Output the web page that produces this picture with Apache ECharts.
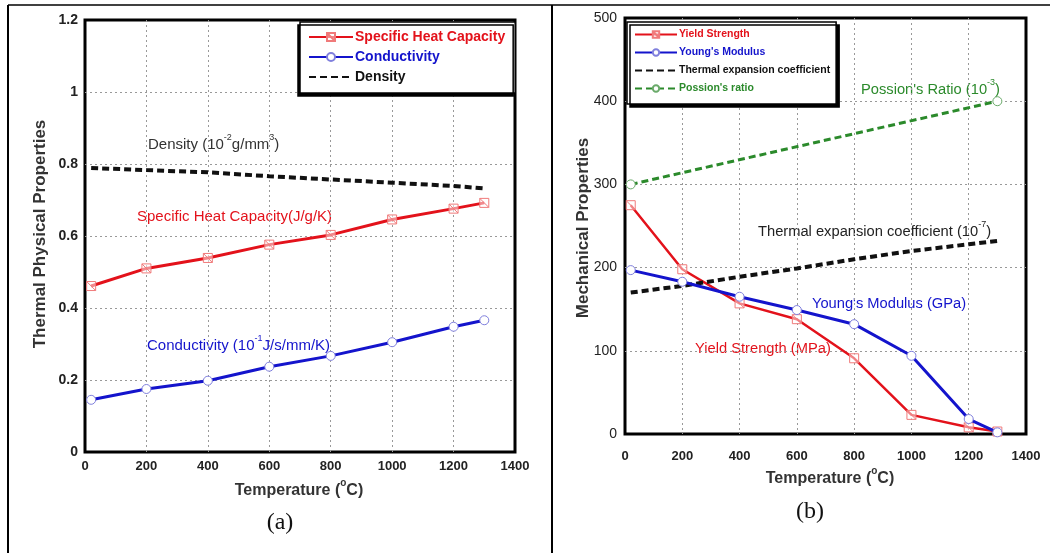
<!DOCTYPE html>
<html>
<head>
<meta charset="utf-8">
<script src="https://cdn.jsdelivr.net/npm/echarts@6/dist/echarts.min.js"></script>
<style>
  html, body { margin: 0; padding: 0; background: #fff; }
  #chart { width: 1057px; height: 553px; }
</style>
</head>
<body>
<div id="chart"></div>
<script>
  // (a) thermal physical properties
  const tempsA = [20, 200, 400, 600, 800, 1000, 1200, 1300]
  const specificHeat = [0.461, 0.51, 0.539, 0.576, 0.603, 0.646, 0.676, 0.692]
  const conductivity = [0.145, 0.175, 0.198, 0.237, 0.267, 0.305, 0.348, 0.366]
  const density = [0.789, 0.783, 0.777, 0.766, 0.757, 0.748, 0.739, 0.732]

  // (b) mechanical properties
  const tempsB = [20, 200, 400, 600, 800, 1000, 1200, 1300]
  const yieldStrength = [275, 198, 157, 138, 91, 23, 8, 3]
  const youngsModulus = [197, 183, 165, 149, 132, 94, 18, 2]
  const thermalExpansion = [170, 178, 189, 199, 210, 220, 228, 232]
  const poissonTemps = [20, 1300]
  const poissonRatio = [300, 400]

  const pairs = (xs, ys) => xs.map((x, i) => [x, ys[i]])

  const FONT = 'Arial, "Liberation Sans", sans-serif'
  const RED = '#e3121b'
  const BLUE = '#1414cc'
  const GREEN = '#2b8a2b'
  const markerSquare = 'path://M0,0H10V10H0Z M0,0L10,10'

  function note(left, top, text, color, size) {
    return {
      type: 'text',
      left,
      top,
      style: {
        text,
        rich: {
          a: { fontSize: size, fontFamily: FONT, fill: color, lineHeight: 24 },
          s: { fontSize: 9, fontFamily: FONT, fill: color, lineHeight: 12, verticalAlign: 'top' },
        },
      },
    }
  }

  function tempTitle(x, y) {
    return {
      type: 'text', x, y,
      style: {
        text: '{a|Temperature (}{s|o}{a|C)}', align: 'center', verticalAlign: 'middle',
        rich: {
          a: { fontSize: 16, fontFamily: FONT, fontWeight: 'bold', fill: '#333', lineHeight: 26 },
          s: { fontSize: 10, fontFamily: FONT, fontWeight: 'bold', fill: '#333', lineHeight: 12, verticalAlign: 'top' },
        },
      },
    }
  }

  const axisLabelStyle = {
    color: '#222',
    fontWeight: 'bold',
    fontFamily: FONT,
    fontSize: 13,
    formatter: v => String(v),
  }
  const gridLine = {
    show: true,
    showMinLine: false,
    showMaxLine: false,
    lineStyle: { type: [2, 3], color: '#999', width: 1 },
  }

  const option = {
    animation: false,
    backgroundColor: '#fff',
    grid: [
      { left: 85, top: 20, width: 430, height: 432, show: true, borderColor: '#000', borderWidth: 3, backgroundColor: 'transparent' },
      { left: 625, top: 18, width: 401, height: 416, show: true, borderColor: '#000', borderWidth: 3, backgroundColor: 'transparent' },
    ],
    xAxis: [
      {
        gridIndex: 0, type: 'value', min: 0, max: 1400, interval: 200,
        axisLine: { show: false }, axisTick: { show: false },
        axisLabel: Object.assign({ margin: 8 }, axisLabelStyle),
        splitLine: gridLine,
      },
      {
        gridIndex: 1, type: 'value', min: 0, max: 1400, interval: 200,
        axisLine: { show: false }, axisTick: { show: false },
        axisLabel: Object.assign({ margin: 16 }, axisLabelStyle),
        splitLine: gridLine,
      },
    ],
    yAxis: [
      {
        gridIndex: 0, type: 'value', min: 0, max: 1.2, interval: 0.2,
        axisLine: { show: false }, axisTick: { show: false },
        axisLabel: Object.assign({ margin: 7 }, axisLabelStyle, { fontSize: 14 }),
        splitLine: gridLine,
      },
      {
        gridIndex: 1, type: 'value', min: 0, max: 500, interval: 100,
        axisLine: { show: false }, axisTick: { show: false },
        axisLabel: Object.assign({ margin: 8 }, axisLabelStyle, { fontSize: 14, fontWeight: 'normal' }),
        splitLine: gridLine,
      },
    ],
    legend: [
      {
        orient: 'vertical',
        left: 300, top: 22,
        padding: [8, 10, 9, 8],
        itemGap: 6,
        itemWidth: 44, itemHeight: 10,
        backgroundColor: '#fff',
        borderColor: '#000', borderWidth: 1.5,
        shadowColor: '#000', shadowBlur: 0, shadowOffsetX: -2, shadowOffsetY: 3,
        textStyle: { fontFamily: FONT, fontWeight: 'bold', fontSize: 14, padding: [0, 0, 0, -3] },
        data: [
          { name: 'Specific Heat Capacity', textStyle: { color: RED } },
          { name: 'Conductivity', textStyle: { color: BLUE } },
          { name: 'Density', textStyle: { color: '#111' }, itemStyle: { opacity: 0 } },
        ],
      },
      {
        orient: 'vertical',
        left: 627, top: 22,
        padding: [7, 6, 10, 7],
        itemGap: 7,
        itemWidth: 42, itemHeight: 8,
        backgroundColor: '#fff',
        borderColor: '#000', borderWidth: 1.5,
        shadowColor: '#000', shadowBlur: 0, shadowOffsetX: 3, shadowOffsetY: 3,
        textStyle: { fontFamily: FONT, fontWeight: 'bold', fontSize: 10.5, padding: [0, 0, 0, -3] },
        data: [
          { name: 'Yield Strength', textStyle: { color: RED } },
          { name: "Young's Modulus", textStyle: { color: BLUE } },
          { name: 'Thermal expansion coefficient', textStyle: { color: '#111' }, itemStyle: { opacity: 0 } },
          { name: "Possion's ratio", textStyle: { color: GREEN } },
        ],
      },
    ],
    series: [
      {
        name: 'Specific Heat Capacity', type: 'line', xAxisIndex: 0, yAxisIndex: 0,
        data: pairs(tempsA, specificHeat),
        symbol: markerSquare, symbolSize: 9,
        lineStyle: { color: RED, width: 3 },
        itemStyle: { color: 'rgba(255,255,255,0.5)', borderColor: '#f07a7a', borderWidth: 1 },
        z: 3,
      },
      {
        name: 'Conductivity', type: 'line', xAxisIndex: 0, yAxisIndex: 0,
        data: pairs(tempsA, conductivity),
        symbol: 'circle', symbolSize: 9,
        lineStyle: { color: BLUE, width: 3 },
        itemStyle: { color: '#fff', borderColor: '#8080dd', borderWidth: 1 },
        z: 3,
      },
      {
        name: 'Density', type: 'line', xAxisIndex: 0, yAxisIndex: 0,
        data: pairs(tempsA, density),
        symbol: 'none',
        lineStyle: { color: '#111', width: 4, type: [7, 4] },
        itemStyle: { color: '#111' },
        z: 3,
      },
      {
        name: 'Yield Strength', type: 'line', xAxisIndex: 1, yAxisIndex: 1,
        data: pairs(tempsB, yieldStrength),
        symbol: markerSquare, symbolSize: 9,
        lineStyle: { color: RED, width: 2.5 },
        itemStyle: { color: 'rgba(255,255,255,0.5)', borderColor: '#f07a7a', borderWidth: 1 },
        z: 3,
      },
      {
        name: "Young's Modulus", type: 'line', xAxisIndex: 1, yAxisIndex: 1,
        data: pairs(tempsB, youngsModulus),
        symbol: 'circle', symbolSize: 9,
        lineStyle: { color: BLUE, width: 3 },
        itemStyle: { color: '#fff', borderColor: '#8080dd', borderWidth: 1 },
        z: 4,
      },
      {
        name: 'Thermal expansion coefficient', type: 'line', xAxisIndex: 1, yAxisIndex: 1,
        data: pairs(tempsB, thermalExpansion),
        symbol: 'none',
        lineStyle: { color: '#111', width: 4, type: [7, 4] },
        itemStyle: { color: '#111' },
        z: 3,
      },
      {
        name: "Possion's ratio", type: 'line', xAxisIndex: 1, yAxisIndex: 1,
        data: pairs(poissonTemps, poissonRatio),
        symbol: 'circle', symbolSize: 9,
        lineStyle: { color: GREEN, width: 3, type: [7, 4] },
        itemStyle: { color: '#fff', borderColor: '#6aaa6a', borderWidth: 1 },
        z: 3,
      },
    ],
    graphic: [
      // page frame
      { type: 'line', shape: { x1: 8, y1: 5, x2: 1050, y2: 5 }, style: { stroke: '#000', lineWidth: 1.5 } },
      { type: 'line', shape: { x1: 8, y1: 5, x2: 8, y2: 553 }, style: { stroke: '#000', lineWidth: 2 } },
      { type: 'line', shape: { x1: 552, y1: 5, x2: 552, y2: 553 }, style: { stroke: '#000', lineWidth: 2 } },

      // axis titles
      {
        type: 'text', x: 40, y: 234, rotation: Math.PI / 2,
        style: { text: 'Thermal Physical Properties', font: `bold 17px ${FONT}`, fill: '#333', align: 'center', verticalAlign: 'middle' },
      },
      {
        type: 'text', x: 583, y: 228, rotation: Math.PI / 2,
        style: { text: 'Mechanical Properties', font: `bold 17px ${FONT}`, fill: '#333', align: 'center', verticalAlign: 'middle' },
      },
      tempTitle(299, 491),
      tempTitle(830, 479),
      {
        type: 'text', x: 280, y: 523,
        style: { text: '(a)', font: '24px "Liberation Serif", "DejaVu Serif", serif', fill: '#111', align: 'center', verticalAlign: 'middle' },
      },
      {
        type: 'text', x: 810, y: 512,
        style: { text: '(b)', font: '24px "Liberation Serif", "DejaVu Serif", serif', fill: '#111', align: 'center', verticalAlign: 'middle' },
      },

      // curve annotations
      note(148, 133, '{a|Density (10}{s|-2}{a|g/mm}{s|3}{a|)}', '#333', 15),
      note(137, 209, '{a|Specific Heat Capacity(J/g/K)}', RED, 15),
      note(147, 334, '{a|Conductivity (10}{s|-1}{a|J/s/mm/K)}', BLUE, 15),
      note(861, 78, "{a|Possion's Ratio (10}{s|-3}{a|)}", GREEN, 14.7),
      note(758, 220, '{a|Thermal expansion coefficient (10}{s|-7}{a|)}', '#222', 14.7),
      note(812, 296, "{a|Young's Modulus (GPa)}", BLUE, 14.7),
      note(695, 341, '{a|Yield Strength (MPa)}', RED, 14.7),
    ],
  }

  const chart = echarts.init(document.getElementById('chart'))
  chart.setOption(option)
</script>
</body>
</html>
